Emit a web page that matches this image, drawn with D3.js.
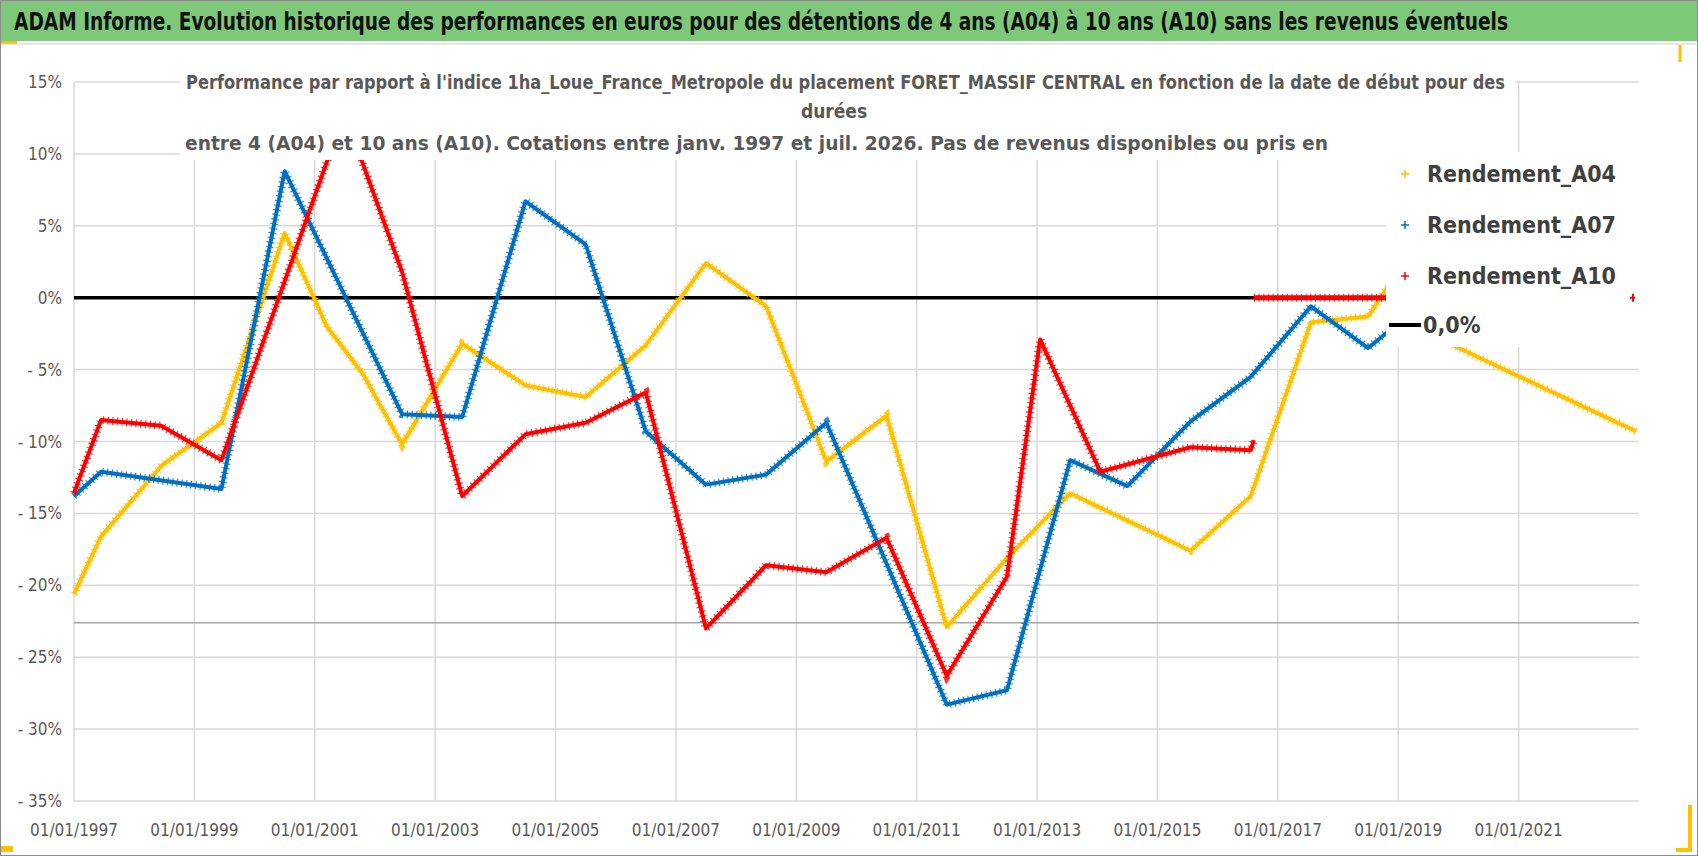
<!DOCTYPE html>
<html>
<head>
<meta charset="utf-8">
<script src="https://cdn.jsdelivr.net/npm/d3@7"></script>
<style>
  body { margin: 0; background: #fff; }
  text { font-family: "Liberation Sans Narrow", "Arial Narrow", "DejaVu Sans Condensed", sans-serif; }
</style>
</head>
<body>
<div id="chart"></div>
<script>
// series values: [year (decimal), performance %]
const a04 = [[1997.0,-20.6],[1997.45,-16.6],[1998.45,-11.7],[1999.45,-8.7],[2000.5,4.5],[2001.2,-2.0],[2001.8,-5.3],
  [2002.45,-10.2],[2003.45,-3.2],[2004.5,-6.1],[2005.5,-6.9],[2006.5,-3.3],[2007.5,2.4],[2008.5,-0.6],[2009.5,-11.4],
  [2010.5,-8.2],[2011.5,-22.9],[2012.5,-18.1],[2013.55,-13.6],[2015.55,-17.6],[2016.55,-13.8],[2017.55,-1.7],
  [2018.5,-1.3],[2018.85,0.9],[2019.1,1.5],[2019.6,-2.7],[2022.95,-9.3]];
const a07 = [[1997.0,-13.8],[1997.45,-12.1],[1999.45,-13.3],[2000.5,8.8],[2002.45,-8.1],[2003.45,-8.3],[2004.5,6.7],
  [2005.5,3.7],[2006.5,-9.3],[2007.5,-13.0],[2008.5,-12.3],[2009.5,-8.7],[2011.5,-28.3],[2012.5,-27.3],[2013.55,-11.3],
  [2014.5,-13.1],[2015.55,-8.6],[2016.55,-5.5],[2017.55,-0.6],[2018.5,-3.5],[2018.85,-2.3]];
const a10 = [[1997.0,-13.6],[1997.45,-8.5],[1998.45,-8.9],[1999.45,-11.3],[2001.5,13.0],[2001.8,9.3],[2002.45,1.8],
  [2003.45,-13.8],[2004.5,-9.5],[2005.5,-8.7],[2006.5,-6.6],[2007.5,-23.0],[2008.5,-18.6],[2009.5,-19.1],[2010.5,-16.7],
  [2011.5,-26.3],[2012.5,-19.4],[2013.05,-2.9],[2014.05,-12.1],[2015.55,-10.4],[2016.55,-10.6],[2016.6,-9.9]];
const a10Zero = [[2016.6,0],[2023.0,0]];
const yTicks = [15,10,5,0,-5,-10,-15,-20,-25,-30,-35];
const xTicks = [1997,1999,2001,2003,2005,2007,2009,2011,2013,2015,2017,2019,2021];
const legendItems = ["Rendement_A04","Rendement_A07","Rendement_A10","0,0%"];
const colors = ["#ffc000","#0070c0","#ff0000","#000000"];

const width = 1698, height = 856;
const svg = d3.select("#chart").append("svg").attr("width", width).attr("height", height);

const x = d3.scaleLinear().domain([1997, 2023]).range([74, 1639]);
const y = d3.scaleLinear().domain([-35, 15]).range([801, 82]);

// frame + header
svg.append("rect").attr("x",0.5).attr("y",0.5).attr("width",width-1).attr("height",height-1)
  .attr("fill","#fff").attr("stroke","#8c8c8c");
svg.append("rect").attr("x",1).attr("y",1).attr("width",width-2).attr("height",40).attr("fill","#7ec87a");
svg.append("rect").attr("x",1).attr("y",41).attr("width",16).attr("height",3).attr("fill","#ffc000");
svg.append("line").attr("x1",1).attr("x2",width-2).attr("y1",44).attr("y2",44).attr("stroke","#cfcfcf");
svg.append("text").attr("x",14).attr("y",30).attr("font-size",24).attr("font-weight","bold").attr("fill","#111")
  .attr("textLength",1494).attr("lengthAdjust","spacingAndGlyphs")
  .text("ADAM Informe. Evolution historique des performances en euros pour des détentions de 4 ans (A04) à 10 ans (A10) sans les revenus éventuels");
svg.append("path").attr("d","M1690,805 V850 H1676").attr("stroke","#ffc000").attr("stroke-width",4).attr("fill","none");
svg.append("rect").attr("x",1).attr("y",846).attr("width",12).attr("height",6).attr("fill","#ffc000");
svg.append("path").attr("d","M1680,45 V62").attr("stroke","#ffc000").attr("stroke-width",3);

// gridlines
svg.append("g").selectAll("line").data(yTicks).join("line")
  .attr("x1",x.range()[0]).attr("x2",x.range()[1]).attr("y1",d=>y(d)).attr("y2",d=>y(d))
  .attr("stroke","#d9d9d9").attr("stroke-width",1.5);
svg.append("g").selectAll("line").data(xTicks).join("line")
  .attr("x1",d=>x(d)).attr("x2",d=>x(d)).attr("y1",y(15)).attr("y2",y(-35))
  .attr("stroke","#d9d9d9").attr("stroke-width",1.5);
svg.append("line").attr("x1",x.range()[0]).attr("x2",x.range()[1]).attr("y1",y(-22.6)).attr("y2",y(-22.6))
  .attr("stroke","#a6a6a6").attr("stroke-width",1.5);

// axis labels
svg.append("g").selectAll("text").data(yTicks).join("text")
  .attr("x",62).attr("y",d=>y(d)+6).attr("text-anchor","end").attr("font-size",17).attr("fill","#595959")
  .text(d => (d < 0 ? "- " + (-d) : d) + "%");
svg.append("g").selectAll("text").data(xTicks).join("text")
  .attr("x",d=>x(d)).attr("y",836).attr("text-anchor","middle").attr("font-size",17).attr("fill","#595959")
  .text(d => "01/01/" + d);

// zero line
svg.append("line").attr("x1",x(1997)).attr("x2",x(2023)).attr("y1",y(0)).attr("y2",y(0))
  .attr("stroke","#000").attr("stroke-width",3.5);

// series
const line = d3.line().x(d => x(d[0])).y(d => y(d[1]));
svg.append("clipPath").attr("id","plot").append("rect")
  .attr("x",x(1997)-5).attr("y",y(15)).attr("width",x(2023)-x(1997)+10).attr("height",y(-35)-y(15));
const plotG = svg.append("g").attr("clip-path","url(#plot)");
[[a04,0],[a07,1],[a10,2],[a10Zero,2]].forEach(([data,i]) => {
  plotG.append("path").datum(data).attr("d",line).attr("fill","none")
    .attr("stroke",colors[i]).attr("stroke-width",data===a10Zero?5:4).attr("stroke-linejoin","round");
  plotG.append("path").datum(data).attr("d",line).attr("fill","none")
    .attr("stroke",colors[i]).attr("stroke-width",8).attr("stroke-dasharray","1.2 3.5").attr("opacity",0.8);
});

// subtitle box
svg.append("rect").attr("x",180).attr("y",60).attr("width",1335).attr("height",100).attr("fill","#fff");
const sub = svg.append("g").attr("font-size",19).attr("font-weight","bold").attr("fill","#595959");
sub.append("text").attr("x",186).attr("y",89).attr("textLength",1319).attr("lengthAdjust","spacingAndGlyphs")
  .text("Performance par rapport à l'indice 1ha_Loue_France_Metropole  du placement FORET_MASSIF CENTRAL en fonction de la date de début pour des");
sub.append("text").attr("x",834).attr("y",118).attr("text-anchor","middle").text("durées");
sub.append("text").attr("x",185).attr("y",150).attr("textLength",1143).attr("lengthAdjust","spacingAndGlyphs")
  .text("entre 4 (A04) et 10 ans (A10).  Cotations entre janv. 1997 et juil. 2026. Pas de revenus disponibles ou pris en");

// legend
svg.append("rect").attr("x",1386).attr("y",152).attr("width",272).attr("height",195).attr("fill","#fff");
svg.append("path").attr("d",`M${x(2022.9)-3},${y(0)} h5 M${x(2022.9)},${y(0)-4} v8`).attr("stroke","#ff0000").attr("stroke-width",2);
const lg = svg.append("g").selectAll("g").data(legendItems).join("g")
  .attr("transform",(d,i) => `translate(1405,${[174,225,276,325][i]})`);
lg.each(function(d,i){
  const g = d3.select(this);
  if (i < 3) g.append("path").attr("d","M-4,0 H4 M0,-4 V4").attr("stroke",colors[i]).attr("stroke-width",1.5);
  else g.append("line").attr("x1",-16).attr("x2",16).attr("stroke","#000").attr("stroke-width",4);
});
lg.append("text").attr("x",(d,i)=> i<3?22:18).attr("y",8).attr("font-size",23).attr("font-weight","bold").attr("fill","#404040")
  .text(d => d);
</script>
</body>
</html>
